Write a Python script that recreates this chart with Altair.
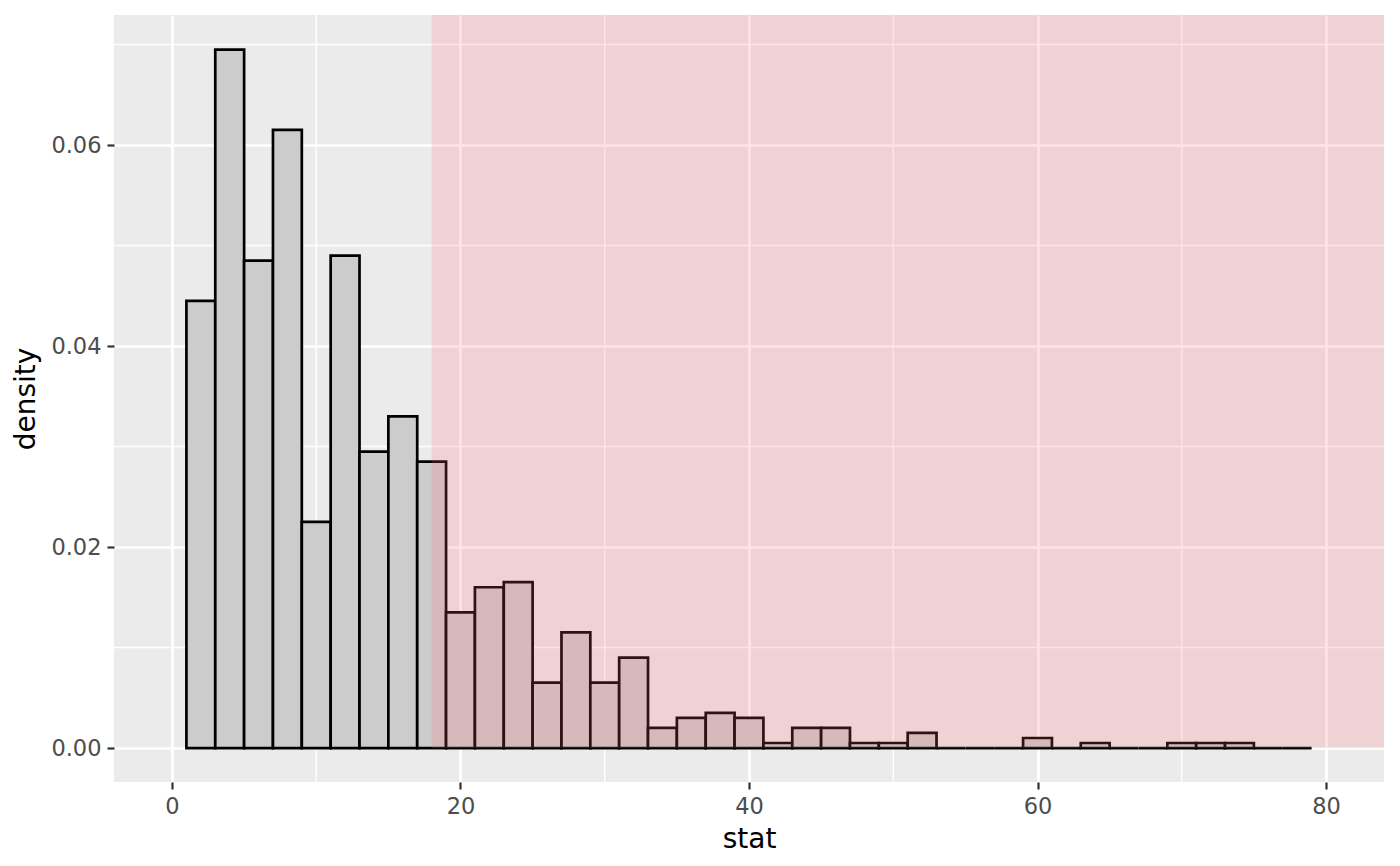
import altair as alt
import pandas as pd

# histogram bins (width 2) and densities
bin_start = list(range(1, 79, 2))
density = [0.0445, 0.0695, 0.0485, 0.0615, 0.0225, 0.049, 0.0295, 0.033, 0.0285,
           0.0135, 0.016, 0.0165, 0.0065, 0.0115, 0.0065, 0.009, 0.002, 0.003,
           0.0035, 0.003, 0.0005, 0.002, 0.002, 0.0005, 0.0005, 0.0015, 0.0, 0.0,
           0.0, 0.001, 0.0, 0.0005, 0.0, 0.0, 0.0005, 0.0005, 0.0005, 0.0, 0.0]
bin_width = 2
obs_stat = 18

x_ticks = [0, 20, 40, 60, 80]
y_ticks = [0, 0.02, 0.04, 0.06]
x_minor = [10, 30, 50, 70]
y_minor = [0.01, 0.03, 0.05, 0.07]

x_domain = [-4.02, 84.02]
y_domain = [-0.00338, 0.07294]

bars = pd.DataFrame({"start": bin_start,
                     "end": [b + bin_width for b in bin_start],
                     "density": density,
                     "base": [0.0] * len(bin_start)})
shade_df = pd.DataFrame({"x": [obs_stat], "x2": [x_domain[1]],
                         "y": [y_domain[1]], "y2": [0.0]})

W, H = 1270, 767
xscale = alt.Scale(domain=x_domain, nice=False, zero=False)
yscale = alt.Scale(domain=y_domain, nice=False, zero=False)

FONT = "DejaVu Sans"
xaxis = alt.Axis(title="stat", values=x_ticks, format="d", grid=True,
                 gridColor="white", gridWidth=2.7, domain=False,
                 tickColor="#333333", tickWidth=2.2, tickSize=7,
                 labelFont=FONT, labelFontSize=22.5, labelColor="#4D4D4D",
                 labelPadding=6, titleFont=FONT, titleFontSize=28,
                 titleFontWeight="normal", titleColor="black", titlePadding=8)
yaxis = alt.Axis(title="density", values=y_ticks, format=".2f", grid=True,
                 gridColor="white", gridWidth=2.7, domain=False,
                 tickColor="#333333", tickWidth=2.2, tickSize=7,
                 labelFont=FONT, labelFontSize=22.5, labelColor="#4D4D4D",
                 labelPadding=6, titleFont=FONT, titleFontSize=28,
                 titleFontWeight="normal", titleColor="black", titlePadding=10)

minor_x = alt.Chart(pd.DataFrame({"x": x_minor})).mark_rule(
    color="white", strokeWidth=1.35).encode(x=alt.X("x:Q", scale=xscale, axis=xaxis))
minor_y = alt.Chart(pd.DataFrame({"y": y_minor})).mark_rule(
    color="white", strokeWidth=1.35).encode(y=alt.Y("y:Q", scale=yscale, axis=yaxis))

hist = alt.Chart(bars).mark_rect(fill="#CCCCCC", stroke="black", strokeWidth=2.7).encode(
    x=alt.X("start:Q", scale=xscale, axis=xaxis),
    x2="end:Q",
    y=alt.Y("density:Q", scale=yscale, axis=yaxis),
    y2="base:Q",
)

shade = alt.Chart(shade_df).mark_rect(fill="#FF646E", fillOpacity=0.18).encode(
    x=alt.X("x:Q", scale=xscale, axis=xaxis),
    x2="x2:Q",
    y=alt.Y("y:Q", scale=yscale, axis=yaxis),
    y2="y2:Q",
)

chart = alt.layer(minor_x, minor_y, hist, shade).properties(
    width=W, height=H,
    autosize=alt.AutoSizeParams(type="none"),
    padding={"left": 106, "top": 7, "right": 8, "bottom": 85},
).configure_view(fill="#EBEBEB", stroke=None)

chart.save("out.html", embed_options={"renderer": "svg", "actions": False})
